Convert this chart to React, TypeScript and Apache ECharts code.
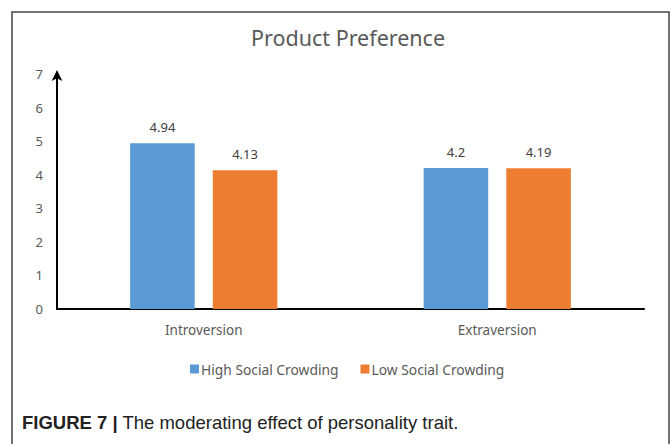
import React, { useEffect, useRef } from "react";
import * as echarts from "echarts";

const categories = ["Introversion", "Extraversion"];
const highSocial = [4.94, 4.2];
const lowSocial = [4.13, 4.19];
const seriesNames = ["High Social Crowding", "Low Social Crowding"];
const yTicks = { min: 0, max: 7, interval: 1 };

export default function App() {
  const ref = useRef<HTMLDivElement>(null);
  useEffect(() => {
    const chart = echarts.init(ref.current!, null, { renderer: "svg" });
    const font = "Noto Sans";
    chart.setOption({
      animation: false,
      backgroundColor: "#ffffff",
      title: {
        text: "Product Preference",
        left: 246,
        top: 21,
        textStyle: { fontFamily: font, fontSize: 21.5, fontWeight: "normal", color: "#595959" },
      },
      legend: {
        data: seriesNames,
        top: 357,
        left: 185,
        itemWidth: 9,
        itemHeight: 9,
        itemGap: 22,
        icon: "rect",
        textStyle: { fontFamily: font, fontSize: 13.8, color: "#595959", padding: [0, 0, 0, -3] },
      },
      grid: { left: 57, right: 28, top: 74, bottom: 135 },
      xAxis: {
        type: "category",
        data: categories,
        axisTick: { show: false },
        axisLine: { lineStyle: { color: "#000", width: 2 } },
        axisLabel: { fontFamily: font, fontSize: 13.5, color: "#595959", margin: 14 },
      },
      yAxis: {
        type: "value",
        min: yTicks.min,
        max: yTicks.max,
        interval: yTicks.interval,
        splitLine: { show: false },
        axisLine: {
          show: true,
          symbol: ["none", "arrow"],
          symbolSize: [8, 11],
          symbolOffset: [0, 4],
          lineStyle: { color: "#000", width: 2 },
        },
        axisLabel: { fontFamily: font, fontSize: 13, color: "#595959", margin: 14 },
      },
      series: [
        {
          name: seriesNames[0],
          type: "bar",
          data: highSocial,
          barWidth: "22%",
          barGap: "28%",
          itemStyle: { color: "#5B9BD5" },
          label: { show: true, position: "top", distance: 10, fontFamily: font, fontSize: 13, color: "#404040" },
        },
        {
          name: seriesNames[1],
          type: "bar",
          data: lowSocial,
          barWidth: "22%",
          itemStyle: { color: "#ED7D31" },
          label: { show: true, position: "top", distance: 10, fontFamily: font, fontSize: 13, color: "#404040" },
        },
      ],
      graphic: [
        {
          type: "rect",
          shape: { x: 12, y: 12, width: 657, height: 460 },
          style: { fill: "none", stroke: "#444", lineWidth: 1.5 },
          silent: true,
        },
        {
          type: "text",
          left: 22,
          top: 413,
          style: {
            text: "{b|FIGURE 7 |} The moderating effect of personality trait.",
            rich: {
              b: { fontFamily: "Liberation Sans", fontSize: 18.5, fontWeight: "bold", fill: "#222" },
            },
            fontFamily: "Liberation Sans",
            fontSize: 18.5,
            fill: "#222",
          },
        },
      ],
    });
    return () => chart.dispose();
  }, []);
  return (
    <div
      ref={ref}
      style={{ position: "absolute", left: 0, top: 0, width: 672, height: 444 }}
    />
  );
}
